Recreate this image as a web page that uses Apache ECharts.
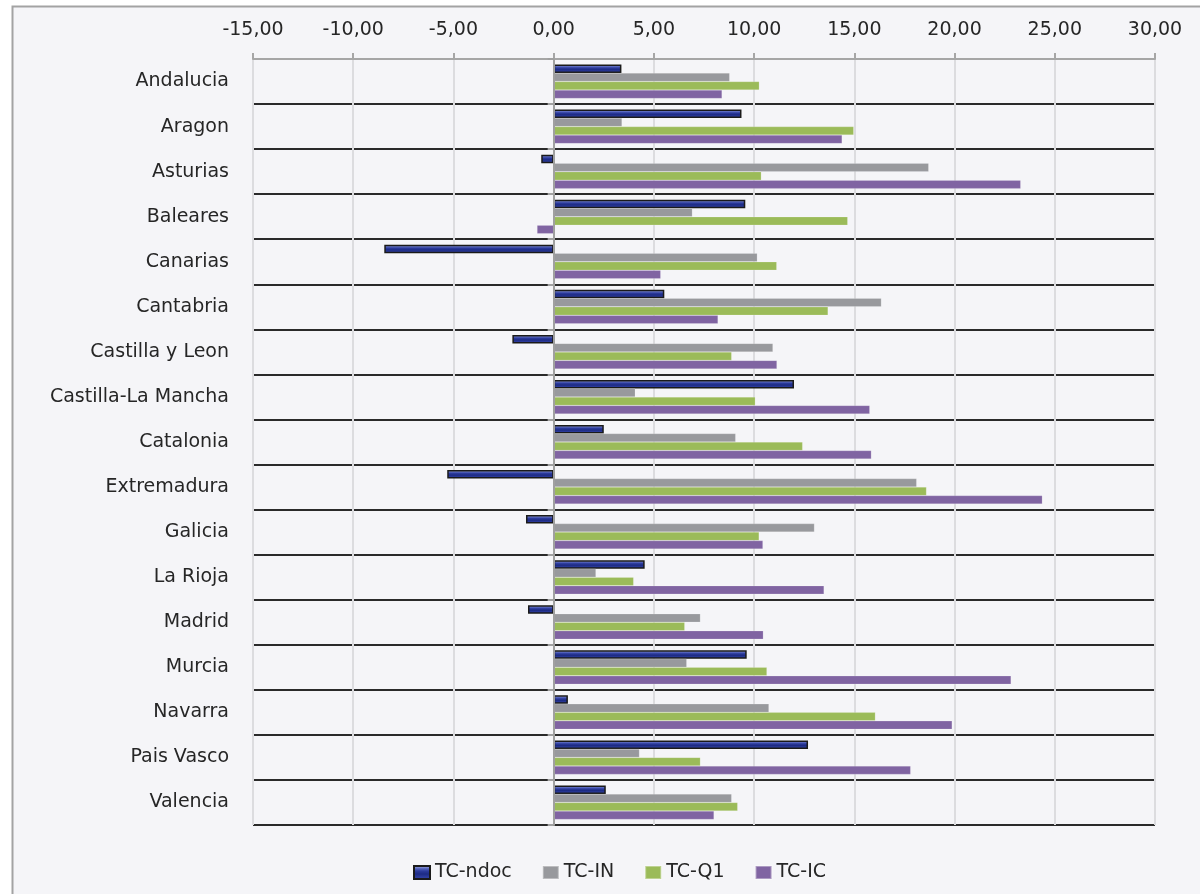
<!DOCTYPE html>
<html>
<head>
<meta charset="utf-8">
<script src="https://cdn.jsdelivr.net/npm/echarts@6/dist/echarts.min.js"></script>
<style>
html,body{margin:0;padding:0;background:#fff;}
#chart{width:1200px;height:894px;}
</style>
</head>
<body>
<div id="chart"></div>
<script>
const categories = ['Andalucia','Aragon','Asturias','Baleares','Canarias','Cantabria','Castilla y Leon','Castilla-La Mancha','Catalonia','Extremadura','Galicia','La Rioja','Madrid','Murcia','Navarra','Pais Vasco','Valencia'];
const seriesNames = ['TC-ndoc','TC-IN','TC-Q1','TC-IC'];
const tcNdoc = [3.38, 9.37, -0.62, 9.56, -8.45, 5.52, -2.06, 11.99, 2.50, -5.31, -1.38, 4.54, -1.28, 9.63, 0.71, 12.69, 2.60];
const tcIN   = [8.78, 3.41, 18.71, 6.92, 10.16, 16.35, 10.94, 4.07, 9.08, 18.11, 13.01, 2.11, 7.32, 6.64, 10.74, 4.28, 8.88];
const tcQ1   = [10.26, 14.97, 10.36, 14.67, 11.13, 13.69, 8.88, 10.06, 12.42, 18.60, 10.25, 3.99, 6.54, 10.64, 16.05, 7.32, 9.18];
const tcIC   = [8.40, 14.39, 23.30, -0.83, 5.34, 8.20, 11.14, 15.77, 15.85, 24.38, 10.44, 13.49, 10.46, 22.82, 19.88, 17.81, 8.00];
const xTickMin = -15, xTickMax = 30, xTickStep = 5;

const GRID_LEFT = 253, GRID_RIGHT = 45, CHART_W = 1200;
const plotW = CHART_W - GRID_LEFT - GRID_RIGHT;
const zeroOffset = (0 - xTickMin) / (xTickMax - xTickMin) * plotW;

const chart = echarts.init(document.getElementById('chart'), null, {renderer:'canvas'});
const FONT = 'DejaVu Sans';
const ndocGradient = new echarts.graphic.LinearGradient(0, 0, 0, 1, [
  {offset:0, color:'#d0d4ea'},
  {offset:0.22, color:'#5d6cc2'},
  {offset:0.4, color:'#2c3b9c'},
  {offset:0.6, color:'#1d2b84'},
  {offset:0.8, color:'#2c3b9c'},
  {offset:1, color:'#3444a6'}
]);
const colors = [ndocGradient, '#98999d', '#9bbb59', '#8064a2'];
const dataSets = [tcNdoc, tcIN, tcQ1, tcIC];

const series = dataSets.map((d, i) => ({
  name: seriesNames[i],
  type: 'bar',
  yAxisIndex: 0,
  data: d,
  barWidth: 8.5,
  barGap: '0%',
  z: 3,
  itemStyle: i === 0
    ? {color: ndocGradient, borderColor: '#1a1a1a', borderWidth: 1.5}
    : {color: colors[i], borderColor: 'rgba(255,255,255,0.35)', borderWidth: 0.5},
  emphasis: {disabled: true},
  animation: false
}));

chart.setOption({
  backgroundColor: '#ffffff',
  animation: false,
  graphic: [{
    type: 'rect', z: -10, silent: true,
    shape: {x: 12.5, y: 6.5, width: 1200, height: 900},
    style: {fill: '#f5f5f8', stroke: '#a3a3a3', lineWidth: 2}
  }],
  legend: {
    data: seriesNames,
    left: 408, top: 858,
    itemWidth: 16, itemHeight: 13, itemGap: 30,
    textStyle: {fontFamily: FONT, fontSize: 19, color: '#262626'},
    icon: 'rect'
  },
  grid: {left: GRID_LEFT, right: GRID_RIGHT, top: 59, bottom: 69, containLabel: false},
  xAxis: {
    type: 'value', position: 'top',
    min: xTickMin, max: xTickMax, interval: xTickStep,
    axisLine: {show: true, onZero: false, lineStyle: {color: '#a6a6a6', width: 2}},
    axisTick: {show: true, length: 6, lineStyle: {color: '#a6a6a6', width: 2}},
    axisLabel: {
      margin: 19, fontFamily: FONT, fontSize: 19, color: '#262626',
      formatter: v => v.toFixed(2).replace('.', ',')
    },
    splitLine: {show: true, lineStyle: {color: '#dcdcdf', width: 2}}
  },
  yAxis: [{
    type: 'category', data: categories, inverse: true, position: 'left',
    axisLine: {show: false},
    axisTick: {show: false},
    axisLabel: {margin: 24, fontFamily: FONT, fontSize: 19, color: '#262626'},
    splitLine: {show: true, interval: 0, lineStyle: {color: '#2a2a2a', width: 2}}
  }, {
    type: 'category', data: categories, inverse: true, position: 'left',
    offset: -zeroOffset,
    axisLine: {show: true, onZero: false, lineStyle: {color: '#a0a0a0', width: 2}},
    axisTick: {show: true, length: 6, lineStyle: {color: '#a0a0a0', width: 2}},
    axisLabel: {show: false},
    splitLine: {show: false},
    z: 4
  }],
  series: series
});
</script>
</body>
</html>
